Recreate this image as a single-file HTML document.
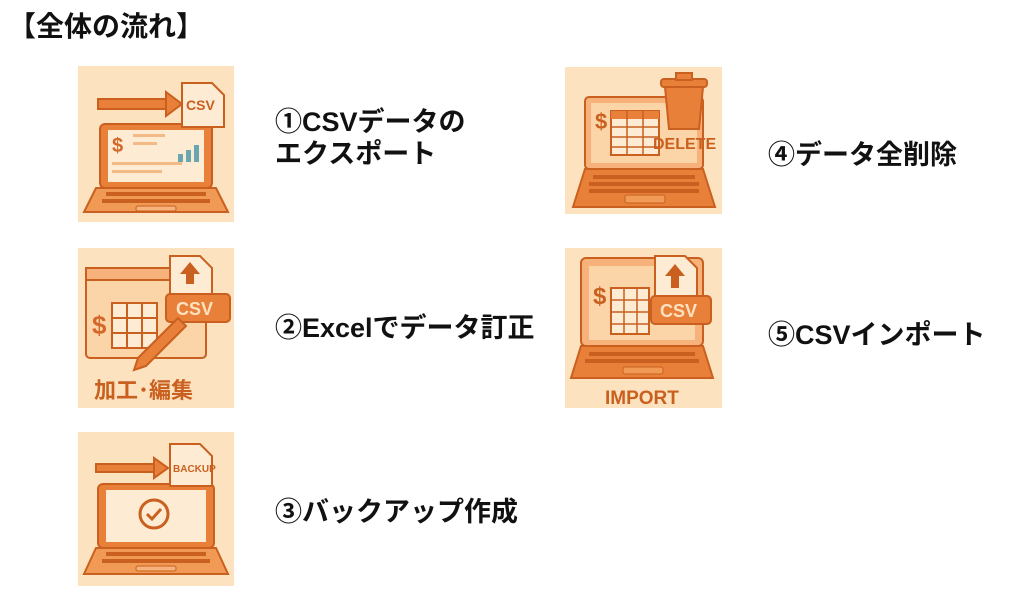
<!DOCTYPE html>
<html><head><meta charset="utf-8"><style>
body{margin:0;width:1024px;height:600px;background:#fff;position:relative;overflow:hidden;font-family:"Liberation Sans","Noto Sans CJK JP",sans-serif}
.t{position:absolute;font-weight:bold;color:#111;white-space:nowrap}
svg{position:absolute}
</style></head><body>
<div class="t" style="left:8px;top:5px;font-size:28px">【全体の流れ】</div>

<!-- icon 1 -->
<svg style="left:78px;top:66px" width="156" height="156" viewBox="0 0 156 156">
<rect width="156" height="156" fill="#fde2bf"/>
<rect x="20" y="33" width="70" height="10" fill="#e9803a" stroke="#c9601f" stroke-width="2"/>
<polygon points="88,26 104,38 88,50" fill="#e9803a" stroke="#c9601f" stroke-width="2"/>
<rect x="22" y="58" width="112" height="64" rx="5" fill="#e9803a" stroke="#c9601f" stroke-width="2"/>
<rect x="30" y="64" width="96" height="52" fill="#fdebd3"/>
<text x="34" y="86" font-size="20" font-weight="bold" fill="#d4682a">$</text>
<rect x="55" y="68" width="32" height="3" fill="#f3b986"/><rect x="55" y="76" width="24" height="3" fill="#f3b986"/>
<rect x="34" y="96" width="70" height="3" fill="#f3b986"/><rect x="34" y="104" width="50" height="3" fill="#f3b986"/>
<rect x="100" y="88" width="5" height="8" fill="#6aa6b0"/><rect x="108" y="84" width="5" height="12" fill="#6aa6b0"/><rect x="116" y="79" width="5" height="17" fill="#6aa6b0"/>
<path d="M104 17h30l12 12v32h-42z" fill="#fdebd3" stroke="#c9601f" stroke-width="2"/>
<text x="108" y="44" font-size="14" font-weight="bold" fill="#c9601f">CSV</text>
<path d="M18 122h120l12 24H6z" fill="#f09a55" stroke="#c9601f" stroke-width="2"/>
<rect x="28" y="126" width="100" height="4" fill="#c9601f"/><rect x="24" y="133" width="108" height="4" fill="#c9601f"/>
<rect x="58" y="140" width="40" height="5" rx="2" fill="#f6b27a" stroke="#c9601f"/>
</svg>
<div class="t" style="left:275px;top:106px;font-size:27px;line-height:32px">①CSVデータの<br>エクスポート</div>

<!-- icon 2 -->
<svg style="left:78px;top:248px" width="156" height="160" viewBox="0 0 156 160">
<rect width="156" height="160" fill="#fde2bf"/>
<rect x="8" y="20" width="120" height="90" rx="4" fill="#fbd5a8" stroke="#c9601f" stroke-width="2"/>
<rect x="8" y="20" width="120" height="12" fill="#f6b27a" stroke="#c9601f" stroke-width="2"/>
<rect x="34" y="55" width="45" height="45" fill="#fdebd3" stroke="#c9601f" stroke-width="2"/>
<path d="M34 70h45M34 85h45M49 55v45M64 55v45" stroke="#c9601f" stroke-width="2"/>
<text x="14" y="86" font-size="26" font-weight="bold" fill="#d4682a">$</text>
<path d="M92 8h30l12 12v28H92z" fill="#fdebd3" stroke="#c9601f" stroke-width="2"/>
<polygon points="112,14 102,26 108,26 108,36 116,36 116,26 122,26" fill="#c9601f"/>
<rect x="88" y="46" width="64" height="28" rx="4" fill="#e9803a" stroke="#c9601f" stroke-width="2"/>
<text x="98" y="67" font-size="18" font-weight="bold" fill="#fde2bf">CSV</text>
<path d="M60 110l40-40 8 8-40 40-12 4z" fill="#e9803a" stroke="#c9601f" stroke-width="2"/>
<text x="16" y="150" font-size="22" font-weight="bold" fill="#c9601f" font-family="Liberation Sans,Noto Sans CJK JP,sans-serif">加工･編集</text>
</svg>
<div class="t" style="left:275px;top:306px;font-size:27px">②Excelでデータ訂正</div>

<!-- icon 3 -->
<svg style="left:78px;top:432px" width="156" height="154" viewBox="0 0 156 154">
<rect width="156" height="154" fill="#fde2bf"/>
<rect x="18" y="32" width="60" height="8" fill="#e9803a" stroke="#c9601f" stroke-width="2"/>
<polygon points="76,26 90,36 76,46" fill="#e9803a" stroke="#c9601f" stroke-width="2"/>
<rect x="20" y="52" width="116" height="64" rx="5" fill="#e9803a" stroke="#c9601f" stroke-width="2"/>
<rect x="28" y="58" width="100" height="52" fill="#fdebd3"/>
<circle cx="76" cy="82" r="14" fill="none" stroke="#c9601f" stroke-width="3"/>
<path d="M69 82l5 5 9-10" fill="none" stroke="#c9601f" stroke-width="3"/>
<path d="M92 12h30l12 12v30H92z" fill="#fdebd3" stroke="#c9601f" stroke-width="2"/>
<text x="95" y="40" font-size="10" font-weight="bold" fill="#c9601f">BACKUP</text>
<path d="M18 116h120l12 26H6z" fill="#f09a55" stroke="#c9601f" stroke-width="2"/>
<rect x="28" y="120" width="100" height="4" fill="#c9601f"/><rect x="24" y="127" width="108" height="4" fill="#c9601f"/>
<rect x="58" y="134" width="40" height="5" rx="2" fill="#f6b27a" stroke="#c9601f"/>
</svg>
<div class="t" style="left:275px;top:490px;font-size:27px">③バックアップ作成</div>

<!-- icon 4 -->
<svg style="left:565px;top:67px" width="157" height="147" viewBox="0 0 157 147">
<rect width="157" height="147" fill="#fde2bf"/>
<rect x="20" y="30" width="118" height="72" rx="4" fill="#f6b27a" stroke="#c9601f" stroke-width="2"/>
<rect x="26" y="36" width="106" height="60" fill="#fbd5a8"/>
<text x="30" y="62" font-size="22" font-weight="bold" fill="#c9601f">$</text>
<rect x="46" y="44" width="48" height="44" fill="#fdebd3" stroke="#c9601f" stroke-width="2"/>
<rect x="46" y="44" width="48" height="8" fill="#e9803a"/>
<path d="M46 60h48M46 70h48M46 80h48M62 44v44M78 44v44" stroke="#c9601f" stroke-width="1.5"/>
<rect x="96" y="12" width="46" height="8" rx="3" fill="#e9803a" stroke="#c9601f" stroke-width="2"/>
<rect x="111" y="6" width="16" height="7" fill="#e9803a" stroke="#c9601f" stroke-width="2"/>
<path d="M100 20h38l-4 42h-30z" fill="#e9803a" stroke="#c9601f" stroke-width="2"/>
<text x="88" y="82" font-size="16" font-weight="bold" fill="#c9601f">DELETE</text>
<path d="M20 102h118l12 38H8z" fill="#e9803a" stroke="#c9601f" stroke-width="2"/>
<rect x="28" y="108" width="102" height="4" fill="#c9601f"/><rect x="24" y="115" width="110" height="4" fill="#c9601f"/><rect x="24" y="122" width="110" height="4" fill="#c9601f"/>
<rect x="60" y="128" width="40" height="8" rx="2" fill="#f09a55" stroke="#c9601f"/>
</svg>
<div class="t" style="left:768px;top:133px;font-size:27px">④データ全削除</div>

<!-- icon 5 -->
<svg style="left:565px;top:248px" width="157" height="160" viewBox="0 0 157 160">
<rect width="157" height="160" fill="#fde2bf"/>
<rect x="16" y="10" width="122" height="88" rx="5" fill="#f6b27a" stroke="#c9601f" stroke-width="2"/>
<rect x="24" y="18" width="106" height="74" fill="#fbd5a8"/>
<text x="28" y="56" font-size="24" font-weight="bold" fill="#c9601f">$</text>
<rect x="46" y="40" width="38" height="46" fill="#fdebd3" stroke="#c9601f" stroke-width="2"/>
<path d="M46 52h38M46 64h38M46 76h38M59 40v46M72 40v46" stroke="#c9601f" stroke-width="1.5"/>
<path d="M90 8h30l12 12v32H90z" fill="#fdebd3" stroke="#c9601f" stroke-width="2"/>
<polygon points="110,16 100,28 106,28 106,40 114,40 114,28 120,28" fill="#c9601f"/>
<rect x="86" y="48" width="60" height="28" rx="4" fill="#e9803a" stroke="#c9601f" stroke-width="2"/>
<text x="95" y="69" font-size="18" font-weight="bold" fill="#fde2bf">CSV</text>
<path d="M16 98h122l10 32H6z" fill="#e9803a" stroke="#c9601f" stroke-width="2"/>
<rect x="24" y="104" width="106" height="4" fill="#c9601f"/><rect x="20" y="111" width="114" height="4" fill="#c9601f"/>
<rect x="58" y="119" width="40" height="7" rx="2" fill="#f09a55" stroke="#c9601f"/>
<text x="40" y="156" font-size="19" font-weight="bold" fill="#c9601f">IMPORT</text>
</svg>
<div class="t" style="left:768px;top:313px;font-size:27px">⑤CSVインポート</div>
</body></html>
